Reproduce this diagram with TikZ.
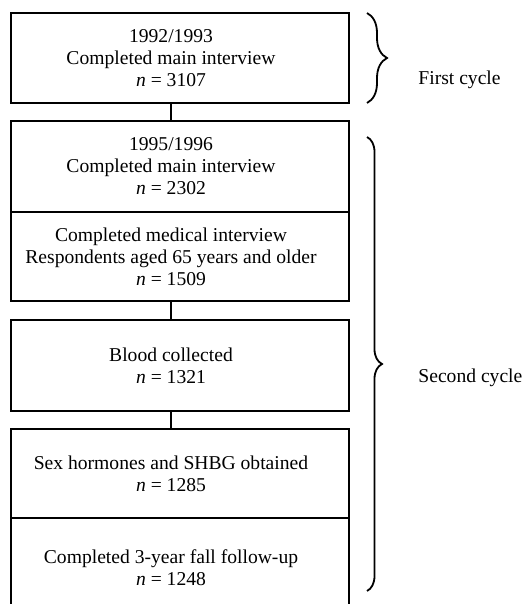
\documentclass[tikz,border=0pt]{standalone}
\usepackage{fontspec}
\setmainfont{Liberation Serif}
\usetikzlibrary{decorations.pathreplacing}
\tikzset{
    stage/.style={rectangle,draw,line width=0.9pt,minimum width=169pt,inner sep=0pt},
    stagetext/.style={align=center,font=\fontsize{9.8}{11}\selectfont,xshift=-4.5pt},
    link/.style={line width=0.9pt},
    cyclebrace/.style={decorate,decoration={brace,amplitude=#1},line width=0.9pt},
    cyclelabel/.style={anchor=west,inner sep=0pt,font=\fontsize{9.8}{11}\selectfont}
}

\begin{document}
\begin{tikzpicture}[x=0.5pt,y=-0.5pt]
\useasboundingbox (0,0) rectangle (531,604);

\node[stage,minimum height=45pt,label={[stagetext]center:{1992/1993\\Completed main interview\\\textit{n} = 3107}}] (first) at (180,58) {};
\node[stage,minimum height=45.5pt,label={[stagetext]center:{1995/1996\\Completed main interview\\\textit{n} = 2302}}] (main) at (180,166.5) {};
\node[stage,minimum height=44.5pt,label={[stagetext]center:{Completed medical interview\\Respondents aged 65 years and older\\\textit{n} = 1509}}] (medical) at (180,256.5) {};
\node[stage,minimum height=45.5pt,label={[stagetext]center:{Blood collected\\\textit{n} = 1321}}] (blood) at (180,365.5) {};
\node[stage,minimum height=44.5pt,label={[stagetext]center:{Sex hormones and SHBG obtained\\\textit{n} = 1285}}] (hormones) at (180,473.5) {};
\node[stage,minimum height=50pt,label={[stagetext]center:{Completed 3-year fall follow-up\\\textit{n} = 1248}}] (followup) at (180,568) {};

\draw[link] ([xshift=-4.5pt]first.south) -- ([xshift=-4.5pt]main.north);
\draw[link] ([xshift=-4.5pt]medical.south) -- ([xshift=-4.5pt]blood.north);
\draw[link] ([xshift=-4.5pt]blood.south) -- ([xshift=-4.5pt]hormones.north);

% cycles
\coordinate (c1top) at (367,13);
\coordinate (c1bot) at (367,103);
\coordinate (c2top) at (367,137);
\coordinate (c2bot) at (367,591);
\draw[cyclebrace=10pt] (c1top) -- (c1bot);
\draw[cyclebrace=7.5pt] (c2top) -- (c2bot);
\node[cyclelabel] (firstcycle) at (418,80) {First cycle};
\node[cyclelabel] (secondcycle) at (418,378) {Second cycle};

\end{tikzpicture}
\end{document}
